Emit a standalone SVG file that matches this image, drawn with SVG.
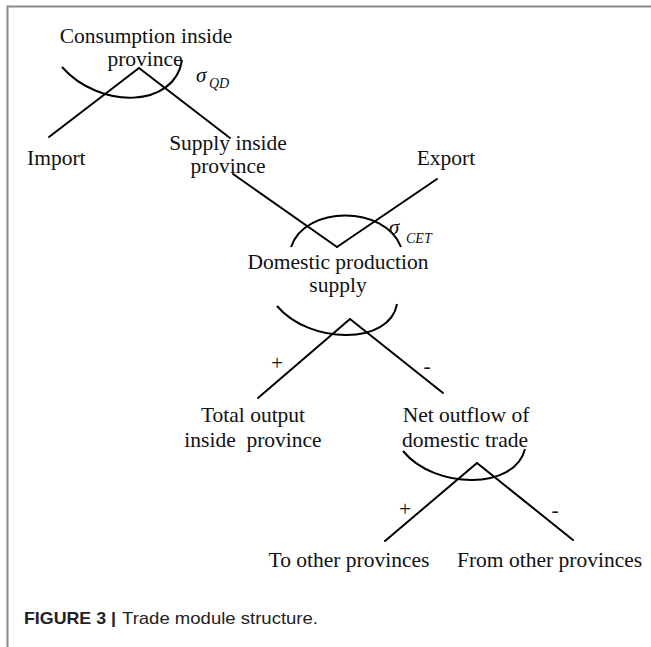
<svg xmlns="http://www.w3.org/2000/svg" width="651" height="647" viewBox="0 0 651 647">
<style>
.lbl{font-family:"Liberation Serif","Times New Roman",serif;font-size:21.5px;fill:#111;}
.mid{text-anchor:middle;}
.sig{font-family:"Liberation Serif","Times New Roman",serif;font-style:italic;font-size:21px;fill:#111;}
.sub{font-family:"Liberation Serif","Times New Roman",serif;font-style:italic;font-size:14px;fill:#111;}
.ln{stroke:#000;stroke-width:2;fill:none;stroke-linecap:round;}
.arc{stroke:#000;stroke-width:2;fill:none;}
.frame{stroke:#8a8a8a;stroke-width:2;fill:none;}
.cap{font-family:"Liberation Sans",Arial,sans-serif;font-size:17px;fill:#222;}
</style>
<rect width="651" height="647" fill="#fff"/>
<path class="frame" d="M651,6.5 H7.5 V647"/>

<g id="connectors">
  <line class="ln" x1="139" y1="68" x2="49" y2="137"/>
  <line class="ln" x1="139" y1="68" x2="230" y2="138"/>
  <line class="ln" x1="233" y1="174" x2="337" y2="247"/>
  <line class="ln" x1="337" y1="247" x2="437" y2="179"/>
  <line class="ln" x1="350" y1="319" x2="258" y2="398"/>
  <line class="ln" x1="350" y1="319" x2="443" y2="393"/>
  <line class="ln" x1="477" y1="463" x2="385" y2="541"/>
  <line class="ln" x1="477" y1="463" x2="573" y2="540"/>
</g>

<g id="elasticity-arcs">
  <path class="arc" d="M62,67 C100,110 175,108 182,60"/>
  <path class="arc" d="M291,247 C305,205 385,205 401,247"/>
  <path class="arc" d="M277,306 C310,345 390,345 397,304"/>
  <path class="arc" d="M403,451 C435,490 515,490 525,449"/>
</g>

<g id="node-consumption">
  <text class="lbl mid" x="146" y="43">Consumption inside</text>
  <text class="lbl mid" x="145" y="66">province</text>
</g>
<g id="label-sigma-qd">
  <text class="sig" x="196" y="82">σ</text>
  <text class="sub" x="209" y="88">QD</text>
</g>
<g id="node-import">
  <text class="lbl" x="27" y="165">Import</text>
</g>
<g id="node-supply-inside">
  <text class="lbl mid" x="228" y="150">Supply inside</text>
  <text class="lbl mid" x="228" y="173">province</text>
</g>
<g id="node-export">
  <text class="lbl mid" x="446" y="165">Export</text>
</g>
<g id="label-sigma-cet">
  <text class="sig" x="389" y="234">σ</text>
  <text class="sub" x="406" y="243">CET</text>
</g>
<g id="node-domestic-production">
  <text class="lbl mid" x="338" y="269">Domestic production</text>
  <text class="lbl mid" x="338" y="292">supply</text>
</g>
<g id="sign-plus-1"><text class="lbl mid" x="277" y="370">+</text></g>
<g id="sign-minus-1"><text class="lbl mid" x="427" y="373">-</text></g>
<g id="node-total-output">
  <text class="lbl mid" x="253" y="422">Total output</text>
  <text class="lbl mid" x="253" y="447" xml:space="preserve">inside  province</text>
</g>
<g id="node-net-outflow">
  <text class="lbl mid" x="466" y="422">Net outflow of</text>
  <text class="lbl mid" x="465" y="447">domestic trade</text>
</g>
<g id="sign-plus-2"><text class="lbl mid" x="405" y="516">+</text></g>
<g id="sign-minus-2"><text class="lbl mid" x="555" y="517">-</text></g>
<g id="node-to-other">
  <text class="lbl mid" x="349" y="567">To other provinces</text>
</g>
<g id="node-from-other">
  <text class="lbl" x="457" y="567">From other provinces</text>
</g>

<g id="caption">
  <text class="cap" y="624"><tspan x="24" font-weight="bold" textLength="92" lengthAdjust="spacingAndGlyphs">FIGURE 3 |</tspan><tspan x="122" textLength="196" lengthAdjust="spacingAndGlyphs">Trade module structure.</tspan></text>
</g>
</svg>
